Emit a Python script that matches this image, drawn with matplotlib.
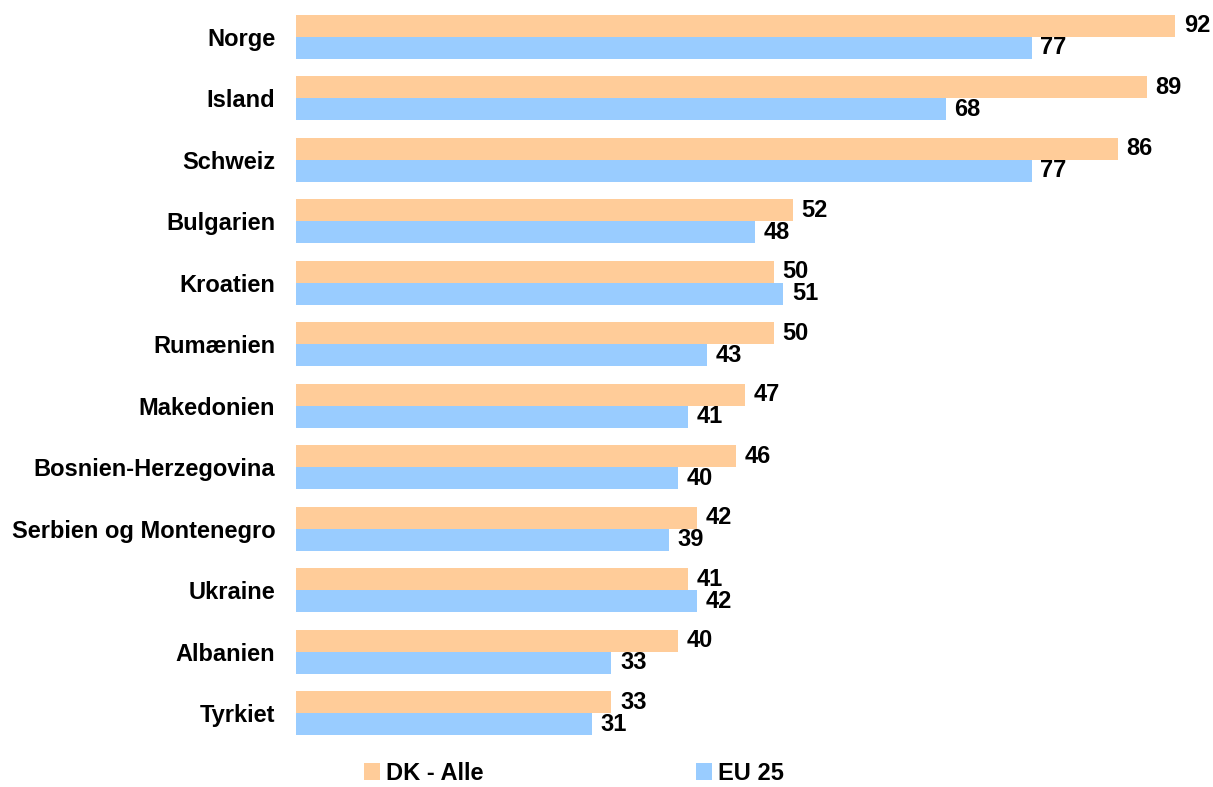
import matplotlib
matplotlib.use("Agg")
import matplotlib.pyplot as plt
import numpy as np

plt.rcParams["font.family"] = ["Liberation Sans", "DejaVu Sans"]
plt.rcParams["font.weight"] = "bold"

# ── data ──────────────────────────────────────────────────────────────────────
countries = ["Norge", "Island", "Schweiz", "Bulgarien", "Kroatien", "Rumænien",
             "Makedonien", "Bosnien-Herzegovina", "Serbien og Montenegro",
             "Ukraine", "Albanien", "Tyrkiet"]
dk_alle = [92, 89, 86, 52, 50, 50, 47, 46, 42, 41, 40, 33]
eu_25   = [77, 68, 77, 48, 51, 43, 41, 40, 39, 42, 33, 31]

C_DK = "#FFCC99"
C_EU = "#99CCFF"
FS = 17

fig = plt.figure(figsize=(12.13, 7.87), dpi=100)
ax = fig.add_axes([296 / 1213, 1 - 750 / 787, (1200 - 296) / 1213, 750 / 787])

y = np.arange(len(countries))
h = 0.36
b1 = ax.barh(y - h / 2, dk_alle, height=h, color=C_DK, label="DK - Alle")
b2 = ax.barh(y + h / 2, eu_25,   height=h, color=C_EU, label="EU 25")

for rects, vals in [(b1, dk_alle), (b2, eu_25)]:
    for r, v in zip(rects, vals):
        ax.text(r.get_width() + 0.9, r.get_y() + r.get_height() / 2, f"{v}",
                va="center", ha="left", fontsize=FS, fontweight="bold")

ax.set_xlim(0, (1200 - 296) / 9.557)
ax.set_ylim(11.6, -0.6)
ax.set_yticks(y)
ax.set_yticklabels(countries, fontsize=FS, fontweight="bold")
ax.tick_params(axis="y", length=0, pad=15)
ax.set_xticks([])
for s in ax.spines.values():
    s.set_visible(False)

fig.legend(handles=[b1, b2], loc="center", bbox_to_anchor=(574 / 1213, 1 - 773 / 787),
           ncol=2, frameon=False, handlelength=0.68, handleheight=0.72,
           handletextpad=0.25, columnspacing=9.0, borderpad=0.0,
           prop={"weight": "bold", "size": FS})

fig.savefig("out.png", dpi=100)
